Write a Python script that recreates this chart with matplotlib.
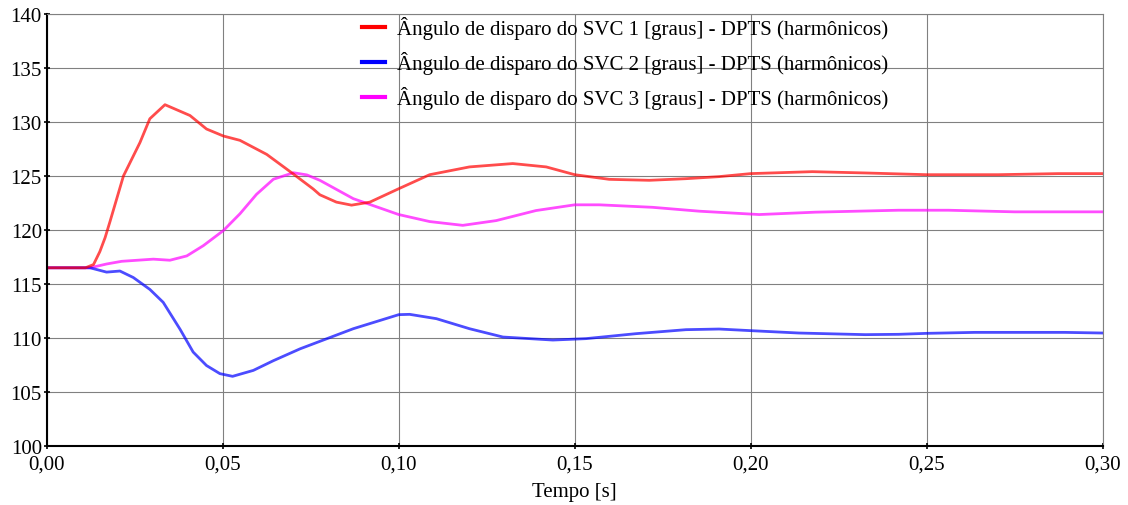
import matplotlib.pyplot as plt
from matplotlib.ticker import FuncFormatter

plt.rcParams['font.family'] = ['Liberation Serif', 'DejaVu Serif']

# SVC 1
t1 = [0.0, 0.011, 0.0133, 0.0151, 0.0166, 0.018, 0.0218, 0.0265, 0.0293, 0.0336,
      0.0407, 0.0454, 0.0502, 0.0549, 0.0625, 0.070, 0.0757, 0.0776, 0.0823, 0.0866,
      0.0918, 0.100, 0.1088, 0.1201, 0.1324, 0.1419, 0.150, 0.1598, 0.1712, 0.1816,
      0.191, 0.20, 0.2175, 0.2325, 0.25, 0.2703, 0.2873, 0.30]
svc1 = [116.5, 116.5, 116.8, 118.0, 119.3, 120.8, 125.0, 128.1, 130.3, 131.6,
        130.6, 129.35, 128.7, 128.3, 127.0, 125.2, 123.8, 123.26, 122.58, 122.3,
        122.58, 123.82, 125.12, 125.84, 126.15, 125.84, 125.12, 124.69, 124.6, 124.75,
        124.94, 125.22, 125.4, 125.28, 125.12, 125.12, 125.22, 125.22]

# SVC 2
t2 = [0.0, 0.0123, 0.017, 0.0208, 0.0246, 0.0293, 0.0331, 0.0379, 0.0416, 0.0454,
      0.0492, 0.0528, 0.0587, 0.0644, 0.072, 0.0776, 0.0871, 0.100, 0.1031, 0.1107,
      0.1201, 0.1296, 0.1438, 0.1532, 0.1674, 0.1816, 0.191, 0.20, 0.2137, 0.2325,
      0.242, 0.25, 0.2637, 0.2892, 0.30]
svc2 = [116.5, 116.5, 116.1, 116.2, 115.6, 114.5, 113.3, 110.8, 108.7, 107.45,
        106.7, 106.45, 107.0, 107.9, 109.0, 109.69, 110.86, 112.16, 112.19, 111.79,
        110.86, 110.09, 109.81, 109.94, 110.4, 110.77, 110.83, 110.68, 110.46, 110.31,
        110.34, 110.43, 110.52, 110.52, 110.46]

# SVC 3
t3 = [0.0, 0.0123, 0.017, 0.0213, 0.0303, 0.035, 0.0398, 0.0445, 0.0502, 0.0549,
      0.0596, 0.0644, 0.0701, 0.0739, 0.0776, 0.0871, 0.100, 0.1088, 0.1182, 0.1277,
      0.139, 0.150, 0.157, 0.1721, 0.1854, 0.2024, 0.2184, 0.242, 0.2561, 0.275, 0.30]
svc3 = [116.5, 116.5, 116.85, 117.1, 117.3, 117.2, 117.6, 118.55, 119.95, 121.5,
        123.3, 124.7, 125.3, 125.1, 124.6, 122.9, 121.43, 120.78, 120.43, 120.87,
        121.8, 122.33, 122.33, 122.1, 121.74, 121.43, 121.65, 121.83, 121.83, 121.68, 121.68]

labels = ['Ângulo de disparo do SVC 1 [graus] - DPTS (harmônicos)',
          'Ângulo de disparo do SVC 2 [graus] - DPTS (harmônicos)',
          'Ângulo de disparo do SVC 3 [graus] - DPTS (harmônicos)']

fig, ax = plt.subplots(figsize=(11.28, 5.06), dpi=100)
fig.subplots_adjust(left=0.0414, right=0.9776, top=0.9704, bottom=0.1166)

l3, = ax.plot(t3, svc3, color='#ff00ff', lw=2, alpha=0.7, label=labels[2])
l2, = ax.plot(t2, svc2, color='#0000ff', lw=2, alpha=0.7, label=labels[1])
l1, = ax.plot(t1, svc1, color='#ff0000', lw=2, alpha=0.7, label=labels[0])

ax.set_xlim(0, 0.30)
ax.set_ylim(100, 140)
ax.set_xticks([0, 0.05, 0.10, 0.15, 0.20, 0.25, 0.30])
ax.set_yticks(range(100, 141, 5))
ax.xaxis.set_major_formatter(FuncFormatter(lambda v, p: f'{v:.2f}'.replace('.', ',')))
ax.grid(True, color='#808080', lw=0.8)
ax.tick_params(labelsize=15, direction='inout', length=5, width=1.2)
ax.tick_params(axis='x', pad=4)
ax.tick_params(axis='y', pad=1)
for s in ['top', 'right']:
    ax.spines[s].set_color('#808080')
    ax.spines[s].set_linewidth(0.8)
for s in ['left', 'bottom']:
    ax.spines[s].set_linewidth(1.5)
ax.set_xlabel('Tempo [s]', fontsize=15, labelpad=6)

leg = fig.legend(handles=[l1, l2, l3], loc='upper left',
                 bbox_to_anchor=(362 / 1128, 1 - 17 / 506),
                 frameon=False, fontsize=15, handlelength=1.1, handletextpad=0.6,
                 labelspacing=0.58, borderpad=0, borderaxespad=0)
for h in leg.legend_handles:
    h.set_alpha(1)
    h.set_linewidth(3)

fig.savefig('out.png')
